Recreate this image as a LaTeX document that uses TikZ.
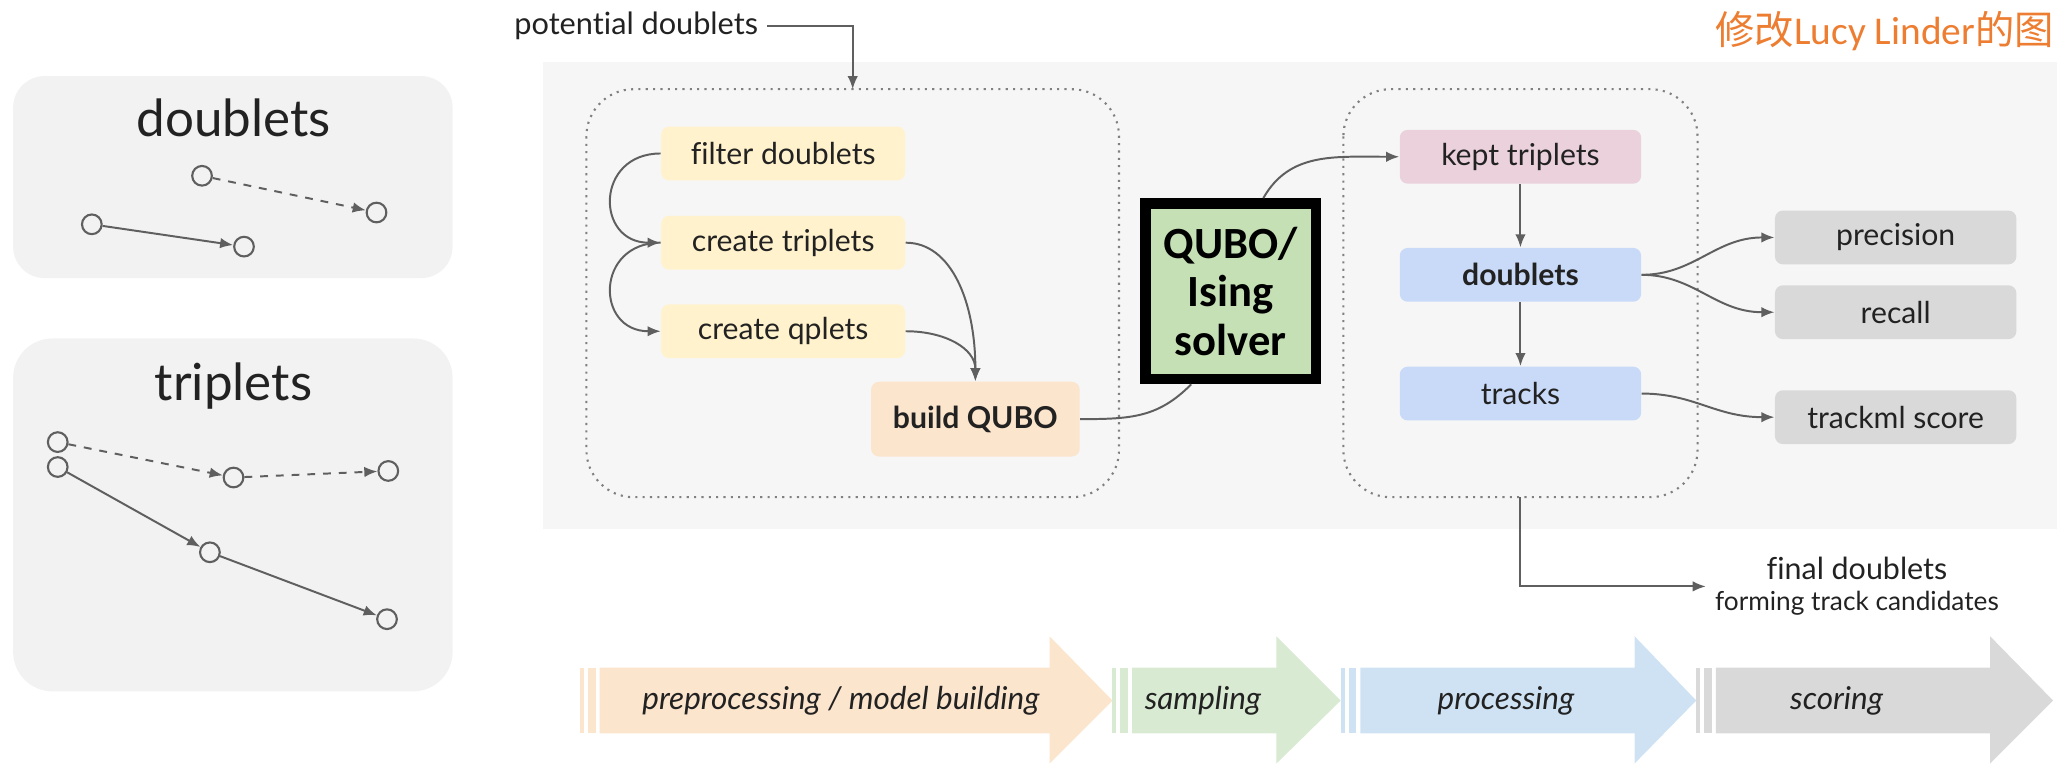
\documentclass[tikz,border=0pt]{standalone}
\usepackage{fontspec}
\setmainfont{Lato}[Ligatures=NoCommon]
\newfontfamily\calib{Carlito}
\newfontfamily\cjk{Noto Sans CJK SC}
\usetikzlibrary{arrows.meta}
\definecolor{bg}{HTML}{F6F6F6}
\definecolor{panel}{HTML}{F2F2F2}
\definecolor{cyellow}{HTML}{FFF2CC}
\definecolor{cpeach}{HTML}{FCE5CD}
\definecolor{cgreen}{HTML}{C5E0B4}
\definecolor{cpink}{HTML}{EAD1DC}
\definecolor{cblue}{HTML}{C9DAF8}
\definecolor{cgray}{HTML}{D9D9D9}
\definecolor{chorange}{HTML}{FCE5CD}
\definecolor{chgreen}{HTML}{D9EAD3}
\definecolor{chblue}{HTML}{CFE2F3}
\definecolor{chgray}{HTML}{D9D9D9}
\definecolor{linegray}{HTML}{5F5F5F}
\definecolor{ink}{HTML}{222222}
\definecolor{corange}{HTML}{ED7D31}

\begin{document}
\begin{tikzpicture}[x=0.5pt, y=-0.5pt,
  conn/.style={draw=linegray, line width=0.75pt},
  arr/.style={conn, -{Latex[length=5pt,width=4pt]}},
  stage/.style={rounded corners=3pt, inner sep=0pt, minimum width=93pt, minimum height=20.5pt, text=ink, font=\fontsize{11.5}{13}\selectfont},
  hit/.style={circle, draw=linegray, line width=0.8pt, minimum size=7.5pt, inner sep=0pt},
  zone/.style={draw=gray, dotted, line width=0.8pt, rounded corners=18pt},
  title/.style={text=ink, font=\fontsize{19.5}{22}\selectfont},
  phase/.style={text=ink, font=\itshape\fontsize{12}{14}\selectfont}]
\useasboundingbox (0,0) rectangle (1568,582);

\fill[panel, rounded corners=12pt] (10,58) rectangle (345,212);
\node[title] (dtitle) at (178,90) {doublets};
\node[hit] (d1) at (154,134) {};
\node[hit] (d2) at (287,162) {};
\node[hit] (d3) at (70,171) {};
\node[hit] (d4) at (186,188) {};
\draw[arr, dashed] (d1) -- (d2);
\draw[arr] (d3) -- (d4);

\fill[panel, rounded corners=15pt] (10,258) rectangle (345,527);
\node[title] (ttitle) at (178,294) {triplets};
\node[hit] (t1) at (44,337) {};
\node[hit] (t2) at (178,364) {};
\node[hit] (t3) at (296,359) {};
\node[hit] (t4) at (44,356) {};
\node[hit] (t5) at (160,421) {};
\node[hit] (t6) at (295,472) {};
\draw[arr, dashed] (t1) -- (t2);
\draw[arr, dashed] (t2) -- (t3);
\draw[arr] (t4) -- (t5);
\draw[arr] (t5) -- (t6);

\fill[bg] (414,47) rectangle (1568,403);
\draw[zone] (447,68) rectangle (853,379);
\draw[zone] (1024,68) rectangle (1294,379);
\coordinate (inA) at (650,68);
\coordinate (outB) at (1159,379);

\node[text=ink, font=\fontsize{11.7}{14}\selectfont] (pd) at (485,20) {potential doublets};
\draw[arr] (pd.east) -| (inA);

\node[stage, fill=cyellow] (filter) at (597,117) {filter doublets};
\node[stage, fill=cyellow] (ctrip) at (597,185) {create triplets};
\node[stage, fill=cyellow] (cq) at (597,252.5) {create qplets};
\node[stage, fill=cpeach, minimum width=79.5pt, minimum height=28.5pt, font=\bfseries\fontsize{11.5}{13}\selectfont] (bq) at (743.5,319.5) {build QUBO};
\node[draw=black, line width=4pt, fill=cgreen, minimum width=65pt, minimum height=67pt, inner sep=0pt, align=center, font=\calib\bfseries\fontsize{17}{18.5}\selectfont] (solver) at (938,222) {QUBO/\\Ising\\solver};

\draw[arr] (filter.west) .. controls +(-50,0) and +(-50,0) .. (ctrip.west);
\draw[arr] (ctrip.west) .. controls +(-50,0) and +(-50,0) .. (cq.west);
\draw[arr] (ctrip.east) .. controls +(35,0) and +(0,-60) .. (bq.north);
\draw[arr] (cq.east) .. controls +(30,0) and +(0,-25) .. (bq.north);
\draw[conn] (bq.east) .. controls +(40,0) and +(-25,25) .. ([xshift=-15pt]solver.south);

\node[stage, fill=cpink, minimum width=92pt] (kept) at (1159,119.5) {kept triplets};
\node[stage, fill=cblue, minimum width=92pt, font=\bfseries\fontsize{11.5}{13}\selectfont] (dbl) at (1159,209.5) {doublets};
\node[stage, fill=cblue, minimum width=92pt] (trk) at (1159,300) {tracks};
\node[stage, fill=cgray, minimum width=92pt] (prec) at (1445,181) {precision};
\node[stage, fill=cgray, minimum width=92pt] (rec) at (1445,238) {recall};
\node[stage, fill=cgray, minimum width=92pt] (tml) at (1445,318) {trackml score};

\draw[arr] ([xshift=12.5pt]solver.north) .. controls +(20,-35) and +(-50,0) .. (kept.west);
\draw[arr] (kept) -- (dbl);
\draw[arr] (dbl) -- (trk);
\draw[arr] (dbl.east) .. controls +(40,0) and +(-45,0) .. (prec.west);
\draw[arr] (dbl.east) .. controls +(40,0) and +(-45,0) .. (rec.west);
\draw[arr] (trk.east) .. controls +(40,0) and +(-45,0) .. (tml.west);

\node[text=ink, align=center, font=\fontsize{10}{12}\selectfont] (fd) at (1415.5,447) {{\fontsize{11.6}{12}\selectfont final doublets}\\forming track candidates};
\draw[arr] (outB) |- (fd.west);

\node[anchor=east, text=corange, inner sep=0pt, font=\fontsize{15}{18}\selectfont] (credit) at (1566,24) {{\cjk 修改}{\calib Lucy Linder}{\cjk 的图}};

\foreach \s/\h/\t/\c in {442/800/848/chorange, 848/973/1022/chgreen, 1022/1246/1293/chblue, 1293/1517/1565/chgray}{
  \fill[\c] (\s,509) rectangle (\s+3,559);
  \fill[\c] (\s+6,509) rectangle (\s+12,559);
  \fill[\c] (\s+15,509) -- (\h,509) -- (\h,485) -- (\t,534) -- (\h,582) -- (\h,559) -- (\s+15,559) -- cycle;
}
\node[phase] (pre) at (641,534) {preprocessing / model building};
\node[phase] (smp) at (917,534) {sampling};
\node[phase] (prc) at (1148,534) {processing};
\node[phase] (scr) at (1400,534) {scoring};
\end{tikzpicture}
\end{document}
